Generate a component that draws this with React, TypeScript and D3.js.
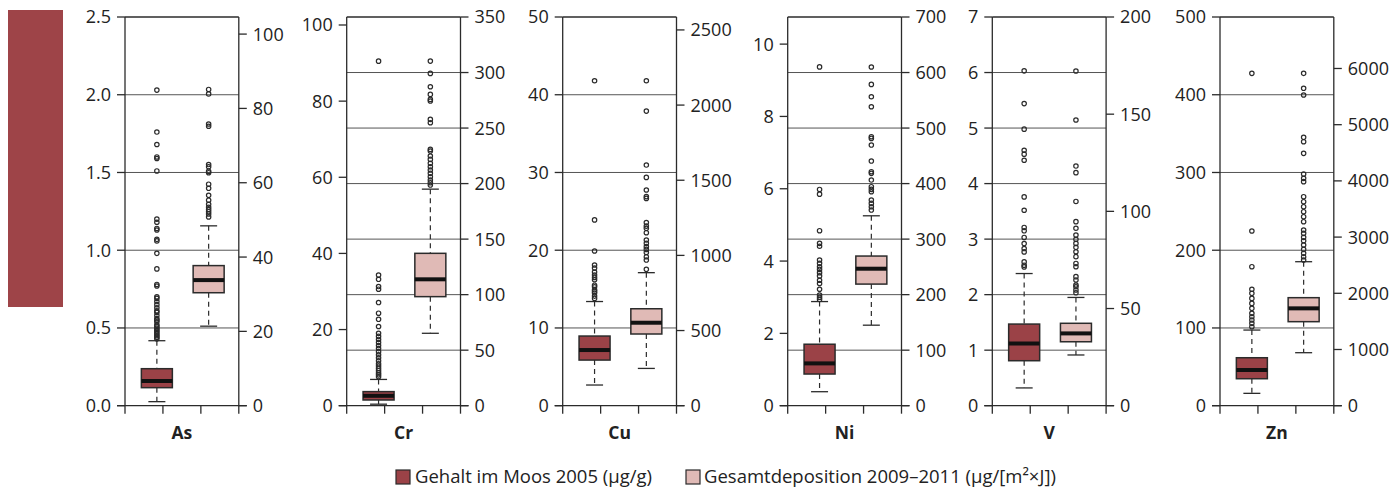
import React from "react";
import * as d3 from "d3";

// ---------- DATA ----------
const elements = ["As", "Cr", "Cu", "Ni", "V", "Zn"];
const seriesNames = ["Gehalt im Moos 2005 (µg/g)", "Gesamtdeposition 2009–2011 (µg/[m²×J])"];

const leftMax = [2.5, 102.1, 50, 10.75, 7, 500];
const rightMax = [104.6, 350, 2586, 700, 200, 6916];

const leftTicks = [
  [0, 0.5, 1.0, 1.5, 2.0, 2.5],
  [0, 20, 40, 60, 80, 100],
  [0, 10, 20, 30, 40, 50],
  [0, 2, 4, 6, 8, 10],
  [0, 1, 2, 3, 4, 5, 6, 7],
  [0, 100, 200, 300, 400, 500],
];
const rightTicks = [
  [0, 20, 40, 60, 80, 100],
  [0, 50, 100, 150, 200, 250, 300, 350],
  [0, 500, 1000, 1500, 2000, 2500],
  [0, 100, 200, 300, 400, 500, 600, 700],
  [0, 50, 100, 150, 200],
  [0, 1000, 2000, 3000, 4000, 5000, 6000],
];
const gridSide = ["left", "right", "left", "right", "left", "left"];
const leftDecimals = [1, 0, 0, 0, 0, 0];

// [whiskerLow, q1, median, q3, whiskerHigh]
const moosStats = [
  [0.026, 0.116, 0.159, 0.238, 0.418],
  [0.4, 1.5, 2.6, 3.7, 6.9],
  [2.66, 5.87, 7.16, 8.96, 13.4],
  [0.387, 0.876, 1.17, 1.7, 2.88],
  [0.32, 0.81, 1.12, 1.47, 2.38],
  [15.9, 34.7, 45.9, 61.7, 97.3],
];
const depStats = [
  [21.4, 30.4, 33.8, 37.7, 48.4],
  [65.2, 98.2, 113.8, 137.2, 195],
  [248, 477, 552, 645, 885],
  [145, 219, 246.7, 269.5, 342],
  [26.1, 32.9, 37.2, 42.4, 55.7],
  [943, 1495, 1732, 1922, 2562],
];

const moosOutliers = [
  [2.03, 1.76, 1.68, 1.6, 1.59, 1.51, 1.2, 1.18, 1.14, 1.13, 1.07, 1.06, 0.98, 0.88, 0.78, 0.77, 0.7, 0.69,
    0.67, 0.65, 0.63, 0.61, 0.6, 0.58, 0.56, 0.55, 0.54, 0.52, 0.51, 0.5, 0.49, 0.48, 0.47, 0.46, 0.45, 0.44, 0.43],
  [90.5, 34.3, 33.2, 31.3, 30.6, 27.1, 24.3, 22.7, 20.8, 19, 18.2, 17.4, 16.6, 15.8, 15, 14.2, 13.4, 12.6,
    11.8, 11, 10.4, 9.8, 9.2, 8.6, 8.1, 7.6],
  [41.8, 23.9, 19.9, 18.1, 17.7, 17.2, 16.8, 16.5, 16.2, 15.5, 15.3, 14.9, 14.7, 14.5, 14.1, 13.8],
  [9.37, 5.98, 5.85, 4.84, 4.49, 4.41, 4.03, 3.94, 3.84, 3.77, 3.68, 3.59, 3.47, 3.38, 3.22, 3.06, 3.0, 2.94],
  [6.03, 5.44, 4.98, 4.6, 4.53, 4.42, 3.76, 3.52, 3.21, 3.15, 3.03, 2.92, 2.83, 2.77, 2.59, 2.53, 2.5],
  [427.5, 224.7, 178.8, 149.7, 144.5, 138, 131.6, 125.2, 118.8, 114.5, 110.2, 105.9, 101.6],
];
const depOutliers = [
  [85.1, 83.9, 75.8, 75.2, 64.9, 64.3, 63.1, 62.7, 59.6, 58.5, 56.6, 55.3, 54.2, 53.4, 52.8, 52.2, 51.6, 50.8],
  [310.3, 299.2, 287.2, 280.3, 275.8, 274.3, 257.8, 254.8, 230.8, 229.3, 224.8, 221.8, 218.2, 215.2, 212.2,
    209.2, 206.2, 203.2, 200.8, 198.7],
  [2162, 1960, 1601, 1519, 1435, 1391, 1379, 1218, 1195, 1180, 1151, 1102, 1080, 1058, 1040, 1020, 991, 969, 907],
  [610, 578.6, 556.4, 538.4, 484.4, 481.4, 469.4, 440.6, 421.4, 418.4, 406.4, 394.4, 389.6, 385.3, 370.3, 364.3,
    358.3, 352.3],
  [172.2, 147, 123.3, 119.9, 105.1, 94.7, 91.3, 87.8, 85.6, 83.5, 81.5, 79.2, 76.7, 73.2, 71.5, 66.4, 64.7,
    62.1, 61.2, 59.5, 58.1],
  [5913, 5647, 5528, 4775, 4697, 4490, 4122, 4045, 3986, 3719, 3630, 3541, 3452, 3363, 3274, 3126, 3067, 2995,
    2936, 2859, 2782, 2711, 2651, 2592],
];

// ---------- LAYOUT ----------
const W = 1393;
const H = 488;
const panelLeft = [125, 346.7, 562.7, 787.7, 992.3, 1220];
const panelW = 113.8;
const top = 17;
const zeroY = 405.7;
const boxW = 31;
const capW = 17;
const tickLen = 8;
const darkFill = "#9b4247";
const lightFill = "#e0bab6";
const ink = "#2b2b2b";
const font = "'Open Sans', 'Noto Sans', sans-serif";

function Box({ cx, stats, y, fill }: { cx: number; stats: number[]; y: d3.ScaleLinear<number, number>; fill: string }) {
  const [lo, q1, med, q3, hi] = stats;
  return (
    <g>
      <line x1={cx} x2={cx} y1={y(hi)} y2={y(q3)} stroke={ink} strokeWidth={1.2} strokeDasharray="5,4" />
      <line x1={cx} x2={cx} y1={y(q1)} y2={y(lo)} stroke={ink} strokeWidth={1.2} strokeDasharray="5,4" />
      <line x1={cx - capW / 2} x2={cx + capW / 2} y1={y(hi)} y2={y(hi)} stroke={ink} strokeWidth={1.3} />
      <line x1={cx - capW / 2} x2={cx + capW / 2} y1={y(lo)} y2={y(lo)} stroke={ink} strokeWidth={1.3} />
      <rect x={cx - boxW / 2} y={y(q3)} width={boxW} height={y(q1) - y(q3)} fill={fill} stroke={ink} strokeWidth={1.5} />
      <line x1={cx - boxW / 2} x2={cx + boxW / 2} y1={y(med)} y2={y(med)} stroke="#111" strokeWidth={4} />
    </g>
  );
}

function Panel({ i }: { i: number }) {
  const x0 = panelLeft[i];
  const x1 = x0 + panelW;
  const yL = d3.scaleLinear().domain([0, leftMax[i]]).range([zeroY, top]);
  const yR = d3.scaleLinear().domain([0, rightMax[i]]).range([zeroY, top]);
  const fmt = d3.format(`.${leftDecimals[i]}f`);
  const gridScale = gridSide[i] === "left" ? yL : yR;
  const gridTicks = (gridSide[i] === "left" ? leftTicks[i] : rightTicks[i]).filter(
    (t) => t > 0 && gridScale(t) > top + 1
  );
  const c1 = x0 + panelW * 0.28;
  const c2 = x0 + panelW * 0.735;
  return (
    <g>
      {gridTicks.map((t) => (
        <line key={t} x1={x0} x2={x1} y1={gridScale(t)} y2={gridScale(t)} stroke="#555" strokeWidth={1} />
      ))}
      {/* frame */}
      <line x1={x0} x2={x1} y1={top} y2={top} stroke={ink} strokeWidth={1.3} />
      <line x1={x0} x2={x0} y1={top} y2={zeroY} stroke={ink} strokeWidth={1.3} />
      <line x1={x1} x2={x1} y1={top} y2={zeroY} stroke={ink} strokeWidth={1.3} />
      <line x1={x0 - tickLen} x2={x1 + tickLen} y1={zeroY} y2={zeroY} stroke={ink} strokeWidth={1.3} />
      {[0, 1, 2, 3].map((k) => (
        <line key={k} x1={x0 + (panelW * k) / 3} x2={x0 + (panelW * k) / 3} y1={zeroY} y2={zeroY + 8} stroke={ink} strokeWidth={1.3} />
      ))}
      {/* left axis */}
      {leftTicks[i].map((t) => (
        <g key={"l" + t}>
          <line x1={x0 - tickLen} x2={x0} y1={yL(t)} y2={yL(t)} stroke={ink} strokeWidth={1.3} />
          <text x={x0 - 14} y={yL(t)} dy="0.36em" textAnchor="end" fontSize={18} fill="#222" fontFamily={font}>
            {fmt(t)}
          </text>
        </g>
      ))}
      {/* right axis */}
      {rightTicks[i].map((t) => (
        <g key={"r" + t}>
          <line x1={x1} x2={x1 + tickLen} y1={yR(t)} y2={yR(t)} stroke={ink} strokeWidth={1.3} />
          <text x={x1 + 14} y={yR(t)} dy="0.36em" textAnchor="start" fontSize={18} fill="#222" fontFamily={font}>
            {t}
          </text>
        </g>
      ))}
      <Box cx={c1} stats={moosStats[i]} y={yL} fill={darkFill} />
      <Box cx={c2} stats={depStats[i]} y={yR} fill={lightFill} />
      {moosOutliers[i].map((v, k) => (
        <circle key={"m" + k} cx={c1} cy={yL(v)} r={2.2} fill="none" stroke={ink} strokeWidth={1.2} />
      ))}
      {depOutliers[i].map((v, k) => (
        <circle key={"d" + k} cx={c2} cy={yR(v)} r={2.2} fill="none" stroke={ink} strokeWidth={1.2} />
      ))}
      <text x={(x0 + x1) / 2} y={433} dy="0.35em" textAnchor="middle" fontSize={17.5} fontWeight="bold" fill="#222" fontFamily={font}>
        {elements[i]}
      </text>
    </g>
  );
}

export default function App() {
  return (
    <svg width={W} height={H} style={{ position: "absolute", left: 0, top: 0, background: "white" }}>
      <rect x={8} y={10} width={55} height={297} fill="#9e4448" />
      {elements.map((_, i) => (
        <Panel key={i} i={i} />
      ))}
      <g fontFamily={font} fontSize={18.5} fill="#222">
        <rect x={396} y={470} width={14} height={14} fill={darkFill} stroke={ink} strokeWidth={1.2} />
        <text x={415} y={476} dy="0.36em">{seriesNames[0]}</text>
        <rect x={686} y={470} width={14} height={14} fill={lightFill} stroke={ink} strokeWidth={1.2} />
        <text x={704} y={476} dy="0.36em">{seriesNames[1]}</text>
      </g>
    </svg>
  );
}
